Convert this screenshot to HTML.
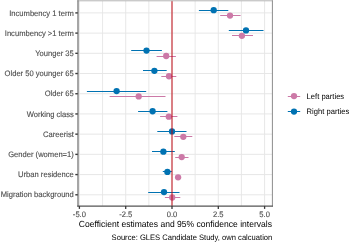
<!DOCTYPE html>
<html><head><meta charset="utf-8"><style>
html,body{margin:0;padding:0;background:#fff;width:350px;height:242px;overflow:hidden}
svg{display:block;font-family:"Liberation Sans",sans-serif;will-change:transform;-webkit-font-smoothing:antialiased;text-rendering:geometricPrecision}
</style></head><body>
<svg width="350" height="242" viewBox="0 0 350 242">
<rect x="0" y="0" width="350" height="242" fill="#fff"/>
<line x1="102.55" y1="0.8" x2="102.55" y2="206.1" stroke="#E6E6E6" stroke-width="0.9"/>
<line x1="148.85" y1="0.8" x2="148.85" y2="206.1" stroke="#E6E6E6" stroke-width="0.9"/>
<line x1="195.15" y1="0.8" x2="195.15" y2="206.1" stroke="#E6E6E6" stroke-width="0.9"/>
<line x1="241.45" y1="0.8" x2="241.45" y2="206.1" stroke="#E6E6E6" stroke-width="0.9"/>
<line x1="79.40" y1="0.8" x2="79.40" y2="206.1" stroke="#E6E6E6" stroke-width="0.95"/>
<line x1="125.70" y1="0.8" x2="125.70" y2="206.1" stroke="#E6E6E6" stroke-width="0.95"/>
<line x1="172.00" y1="0.8" x2="172.00" y2="206.1" stroke="#E6E6E6" stroke-width="0.95"/>
<line x1="218.30" y1="0.8" x2="218.30" y2="206.1" stroke="#E6E6E6" stroke-width="0.95"/>
<line x1="264.60" y1="0.8" x2="264.60" y2="206.1" stroke="#E6E6E6" stroke-width="0.95"/>
<line x1="77.7" y1="12.90" x2="272.4" y2="12.90" stroke="#E6E6E6" stroke-width="0.95"/>
<line x1="77.7" y1="33.11" x2="272.4" y2="33.11" stroke="#E6E6E6" stroke-width="0.95"/>
<line x1="77.7" y1="53.32" x2="272.4" y2="53.32" stroke="#E6E6E6" stroke-width="0.95"/>
<line x1="77.7" y1="73.53" x2="272.4" y2="73.53" stroke="#E6E6E6" stroke-width="0.95"/>
<line x1="77.7" y1="93.74" x2="272.4" y2="93.74" stroke="#E6E6E6" stroke-width="0.95"/>
<line x1="77.7" y1="113.95" x2="272.4" y2="113.95" stroke="#E6E6E6" stroke-width="0.95"/>
<line x1="77.7" y1="134.16" x2="272.4" y2="134.16" stroke="#E6E6E6" stroke-width="0.95"/>
<line x1="77.7" y1="154.37" x2="272.4" y2="154.37" stroke="#E6E6E6" stroke-width="0.95"/>
<line x1="77.7" y1="174.58" x2="272.4" y2="174.58" stroke="#E6E6E6" stroke-width="0.95"/>
<line x1="77.7" y1="194.79" x2="272.4" y2="194.79" stroke="#E6E6E6" stroke-width="0.95"/>
<line x1="220.2" y1="15.50" x2="240.6" y2="15.50" stroke="#CC79A7" stroke-width="1.0"/>
<circle cx="230" cy="15.60" r="3.15" fill="#CC79A7"/>
<line x1="198.9" y1="10.50" x2="228.3" y2="10.50" stroke="#0072B2" stroke-width="1.0"/>
<circle cx="213.7" cy="10.20" r="3.15" fill="#0072B2"/>
<line x1="232" y1="35.50" x2="253" y2="35.50" stroke="#CC79A7" stroke-width="1.0"/>
<circle cx="241.9" cy="35.81" r="3.15" fill="#CC79A7"/>
<line x1="228.8" y1="30.50" x2="263.5" y2="30.50" stroke="#0072B2" stroke-width="1.0"/>
<circle cx="246" cy="30.41" r="3.15" fill="#0072B2"/>
<line x1="156.6" y1="56.50" x2="175.9" y2="56.50" stroke="#CC79A7" stroke-width="1.0"/>
<circle cx="166.2" cy="56.02" r="3.15" fill="#CC79A7"/>
<line x1="131.2" y1="50.50" x2="161.9" y2="50.50" stroke="#0072B2" stroke-width="1.0"/>
<circle cx="146.5" cy="50.62" r="3.15" fill="#0072B2"/>
<line x1="161.3" y1="76.50" x2="176.3" y2="76.50" stroke="#CC79A7" stroke-width="1.0"/>
<circle cx="169" cy="76.23" r="3.15" fill="#CC79A7"/>
<line x1="143" y1="70.50" x2="166.7" y2="70.50" stroke="#0072B2" stroke-width="1.0"/>
<circle cx="154.4" cy="70.83" r="3.15" fill="#0072B2"/>
<line x1="109.6" y1="96.50" x2="165.5" y2="96.50" stroke="#CC79A7" stroke-width="1.0"/>
<circle cx="138.7" cy="96.44" r="3.15" fill="#CC79A7"/>
<line x1="86.9" y1="91.50" x2="146.2" y2="91.50" stroke="#0072B2" stroke-width="1.0"/>
<circle cx="116.6" cy="91.04" r="3.15" fill="#0072B2"/>
<line x1="160.1" y1="116.50" x2="177.4" y2="116.50" stroke="#CC79A7" stroke-width="1.0"/>
<circle cx="168.8" cy="116.65" r="3.15" fill="#CC79A7"/>
<line x1="138.1" y1="111.50" x2="167.4" y2="111.50" stroke="#0072B2" stroke-width="1.0"/>
<circle cx="152.6" cy="111.25" r="3.15" fill="#0072B2"/>
<line x1="174.3" y1="136.50" x2="192.3" y2="136.50" stroke="#CC79A7" stroke-width="1.0"/>
<circle cx="183.3" cy="136.86" r="3.15" fill="#CC79A7"/>
<line x1="157.3" y1="131.50" x2="186.5" y2="131.50" stroke="#0072B2" stroke-width="1.0"/>
<circle cx="172.0" cy="131.46" r="3.15" fill="#0072B2"/>
<line x1="175.2" y1="157.50" x2="188.5" y2="157.50" stroke="#CC79A7" stroke-width="1.0"/>
<circle cx="181.7" cy="157.07" r="3.15" fill="#CC79A7"/>
<line x1="152" y1="151.50" x2="174.8" y2="151.50" stroke="#0072B2" stroke-width="1.0"/>
<circle cx="163.4" cy="151.67" r="3.15" fill="#0072B2"/>
<line x1="176.8" y1="177.50" x2="179.4" y2="177.50" stroke="#CC79A7" stroke-width="1.0"/>
<circle cx="178.1" cy="177.28" r="3.15" fill="#CC79A7"/>
<line x1="162.8" y1="171.50" x2="171.9" y2="171.50" stroke="#0072B2" stroke-width="1.0"/>
<circle cx="167.4" cy="171.88" r="3.15" fill="#0072B2"/>
<line x1="164.9" y1="197.50" x2="180.3" y2="197.50" stroke="#CC79A7" stroke-width="1.0"/>
<circle cx="172.2" cy="197.49" r="3.15" fill="#CC79A7"/>
<line x1="148.2" y1="192.50" x2="179.5" y2="192.50" stroke="#0072B2" stroke-width="1.0"/>
<circle cx="164" cy="192.09" r="3.15" fill="#0072B2"/>
<line x1="172.0" y1="0.8" x2="172.0" y2="206.1" stroke="rgba(190,0,10,0.48)" stroke-width="2"/>
<line x1="77.2" y1="0.8" x2="272.9" y2="0.8" stroke="#b4b4b4" stroke-width="1"/>
<line x1="272.4" y1="0.30000000000000004" x2="272.4" y2="206.6" stroke="#8c8c8c" stroke-width="1"/>
<line x1="78.0" y1="0.30000000000000004" x2="78.0" y2="206.6" stroke="#808080" stroke-width="1.4"/>
<line x1="77.2" y1="206.1" x2="272.9" y2="206.1" stroke="#555" stroke-width="1.05"/>
<line x1="75.3" y1="12.90" x2="77.8" y2="12.90" stroke="#3a3a3a" stroke-width="1.4"/>
<text transform="translate(73.80,15.60) scale(1,1.04)" text-anchor="end" font-size="7.6" fill="#4D4D4D" stroke="#4D4D4D" stroke-width="0.12">Incumbency 1 term</text>
<line x1="75.3" y1="33.11" x2="77.8" y2="33.11" stroke="#3a3a3a" stroke-width="1.4"/>
<text transform="translate(73.80,35.81) scale(1,1.04)" text-anchor="end" font-size="7.6" fill="#4D4D4D" stroke="#4D4D4D" stroke-width="0.12">Incumbency &gt;1 term</text>
<line x1="75.3" y1="53.32" x2="77.8" y2="53.32" stroke="#3a3a3a" stroke-width="1.4"/>
<text transform="translate(73.80,56.02) scale(1,1.04)" text-anchor="end" font-size="7.6" fill="#4D4D4D" stroke="#4D4D4D" stroke-width="0.12">Younger 35</text>
<line x1="75.3" y1="73.53" x2="77.8" y2="73.53" stroke="#3a3a3a" stroke-width="1.4"/>
<text transform="translate(73.80,76.23) scale(1,1.04)" text-anchor="end" font-size="7.6" fill="#4D4D4D" stroke="#4D4D4D" stroke-width="0.12">Older 50 younger 65</text>
<line x1="75.3" y1="93.74" x2="77.8" y2="93.74" stroke="#3a3a3a" stroke-width="1.4"/>
<text transform="translate(73.80,96.44) scale(1,1.04)" text-anchor="end" font-size="7.6" fill="#4D4D4D" stroke="#4D4D4D" stroke-width="0.12">Older 65</text>
<line x1="75.3" y1="113.95" x2="77.8" y2="113.95" stroke="#3a3a3a" stroke-width="1.4"/>
<text transform="translate(73.80,116.65) scale(1,1.04)" text-anchor="end" font-size="7.6" fill="#4D4D4D" stroke="#4D4D4D" stroke-width="0.12">Working class</text>
<line x1="75.3" y1="134.16" x2="77.8" y2="134.16" stroke="#3a3a3a" stroke-width="1.4"/>
<text transform="translate(73.80,136.86) scale(1,1.04)" text-anchor="end" font-size="7.6" fill="#4D4D4D" stroke="#4D4D4D" stroke-width="0.12">Careerist</text>
<line x1="75.3" y1="154.37" x2="77.8" y2="154.37" stroke="#3a3a3a" stroke-width="1.4"/>
<text transform="translate(73.80,157.07) scale(1,1.04)" text-anchor="end" font-size="7.6" fill="#4D4D4D" stroke="#4D4D4D" stroke-width="0.12">Gender (women=1)</text>
<line x1="75.3" y1="174.58" x2="77.8" y2="174.58" stroke="#3a3a3a" stroke-width="1.4"/>
<text transform="translate(73.80,177.28) scale(1,1.04)" text-anchor="end" font-size="7.6" fill="#4D4D4D" stroke="#4D4D4D" stroke-width="0.12">Urban residence</text>
<line x1="75.3" y1="194.79" x2="77.8" y2="194.79" stroke="#3a3a3a" stroke-width="1.4"/>
<text transform="translate(73.80,197.49) scale(1,1.04)" text-anchor="end" font-size="7.6" fill="#4D4D4D" stroke="#4D4D4D" stroke-width="0.12">Migration background</text>
<line x1="79.40" y1="206.1" x2="79.40" y2="208.9" stroke="#3a3a3a" stroke-width="1.3"/>
<text transform="translate(79.40,217.00) scale(1,1.04)" text-anchor="middle" font-size="7.6" fill="#4D4D4D" stroke="#4D4D4D" stroke-width="0.12">-5.0</text>
<line x1="125.70" y1="206.1" x2="125.70" y2="208.9" stroke="#3a3a3a" stroke-width="1.3"/>
<text transform="translate(125.70,217.00) scale(1,1.04)" text-anchor="middle" font-size="7.6" fill="#4D4D4D" stroke="#4D4D4D" stroke-width="0.12">-2.5</text>
<line x1="172.00" y1="206.1" x2="172.00" y2="208.9" stroke="#3a3a3a" stroke-width="1.3"/>
<text transform="translate(172.00,217.00) scale(1,1.04)" text-anchor="middle" font-size="7.6" fill="#4D4D4D" stroke="#4D4D4D" stroke-width="0.12">0.0</text>
<line x1="218.30" y1="206.1" x2="218.30" y2="208.9" stroke="#3a3a3a" stroke-width="1.3"/>
<text transform="translate(218.30,217.00) scale(1,1.04)" text-anchor="middle" font-size="7.6" fill="#4D4D4D" stroke="#4D4D4D" stroke-width="0.12">2.5</text>
<line x1="264.60" y1="206.1" x2="264.60" y2="208.9" stroke="#3a3a3a" stroke-width="1.3"/>
<text transform="translate(264.60,217.00) scale(1,1.04)" text-anchor="middle" font-size="7.6" fill="#4D4D4D" stroke="#4D4D4D" stroke-width="0.12">5.0</text>
<text transform="translate(175.45,226.90) scale(1,1.04)" text-anchor="middle" font-size="8.56" fill="#000" >Coefficient estimates and 95% confidence intervals</text>
<text transform="translate(272.30,239.50) scale(1,1.04)" text-anchor="end" font-size="7.6" fill="#000" >Source: GLES Candidate Study, own calcuation</text>
<line x1="287.8" y1="96.5" x2="300.2" y2="96.5" stroke="#CC79A7" stroke-width="1.0"/>
<circle cx="294" cy="96.1" r="3.15" fill="#CC79A7"/>
<text transform="translate(306.60,98.90) scale(1,1.04)" font-size="7.6" fill="#000" >Left parties</text>
<line x1="287.8" y1="111.5" x2="300.2" y2="111.5" stroke="#0072B2" stroke-width="1.0"/>
<circle cx="294" cy="111.6" r="3.15" fill="#0072B2"/>
<text transform="translate(306.60,114.40) scale(1,1.04)" font-size="7.6" fill="#000" >Right parties</text>
</svg>
</body></html>
